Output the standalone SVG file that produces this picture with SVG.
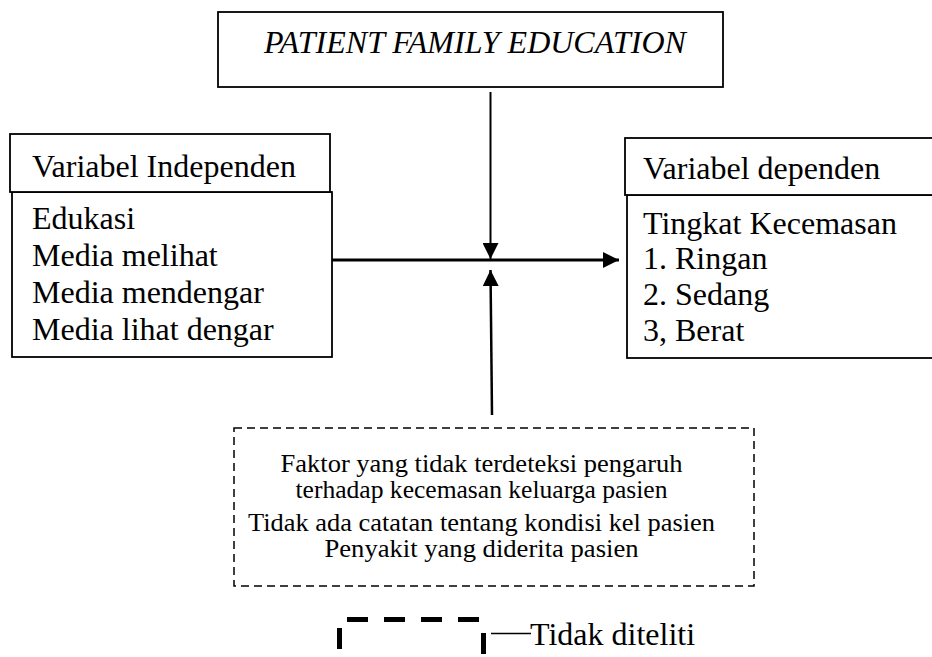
<svg xmlns="http://www.w3.org/2000/svg" width="932" height="657" viewBox="0 0 932 657">
<defs>
<style>
.box{fill:#fff;stroke:#000;stroke-width:1.8}
.dash{fill:none;stroke:#000;stroke-width:1.5;stroke-dasharray:8 5}
.t{font-family:"Liberation Serif","Times New Roman",serif;font-size:32px;fill:#000}
.s{font-family:"Liberation Serif","Times New Roman",serif;font-size:25px;fill:#000;text-anchor:middle}
.ln{stroke:#000;fill:none}
</style>
<marker id="ah" markerWidth="16" markerHeight="16" viewBox="0 0 16 16" refX="16" refY="8" orient="auto" markerUnits="userSpaceOnUse">
<path d="M0,0 L16,8 L0,16 Z" fill="#000"/>
</marker>
</defs>
<rect width="932" height="657" fill="#fff"/>
<g id="pfe">
<rect class="box" x="218" y="12" width="505" height="75"/>
<text class="t" x="264" y="53" font-style="italic">PATIENT FAMILY EDUCATION</text>
</g>
<g id="independen">
<rect class="box" x="12" y="192" width="320" height="165"/>
<rect class="box" x="10" y="134" width="320" height="58"/>
<text class="t" x="32" y="177">Variabel Independen</text>
<text class="t" x="32" y="229">Edukasi</text>
<text class="t" x="32" y="266">Media melihat</text>
<text class="t" x="32" y="303">Media mendengar</text>
<text class="t" x="32" y="340">Media lihat dengar</text>
</g>
<g id="dependen">
<rect class="box" x="627" y="195" width="310" height="163"/>
<rect class="box" x="625" y="138" width="312" height="57"/>
<text class="t" x="643" y="179">Variabel dependen</text>
<text class="t" x="643" y="234">Tingkat Kecemasan</text>
<text class="t" x="643" y="269">1. Ringan</text>
<text class="t" x="643" y="305">2. Sedang</text>
<text class="t" x="643" y="341">3, Berat</text>
</g>
<g id="faktor">
<rect class="dash" x="234" y="428" width="520" height="158"/>
<text class="s" x="481.5" y="472" textLength="402" lengthAdjust="spacingAndGlyphs">Faktor yang tidak terdeteksi pengaruh</text>
<text class="s" x="481.5" y="498" textLength="372" lengthAdjust="spacingAndGlyphs">terhadap kecemasan keluarga pasien</text>
<text class="s" x="481.5" y="531" textLength="467" lengthAdjust="spacingAndGlyphs">Tidak ada catatan tentang kondisi kel pasien</text>
<text class="s" x="481.5" y="557" textLength="314" lengthAdjust="spacingAndGlyphs">Penyakit yang diderita pasien</text>
</g>
<g id="connectors">
<line class="ln" x1="490.5" y1="92" x2="490.5" y2="259" stroke-width="2" marker-end="url(#ah)"/>
<line class="ln" x1="332" y1="260" x2="619" y2="260" stroke-width="3" marker-end="url(#ah)"/>
<line class="ln" x1="492" y1="415" x2="490.5" y2="270" stroke-width="2.5" marker-end="url(#ah)"/>
</g>
<g id="legend">
<line class="ln" x1="347" y1="619.5" x2="481" y2="619.5" stroke-width="5" stroke-dasharray="21 16"/>
<line class="ln" x1="339.5" y1="628" x2="339.5" y2="649" stroke-width="5"/>
<line class="ln" x1="483.5" y1="633" x2="483.5" y2="654" stroke-width="5"/>
<line class="ln" x1="491" y1="633.5" x2="531" y2="633.5" stroke-width="1.5"/>
<text class="t" x="530" y="645">Tidak diteliti</text>
</g>
</svg>
